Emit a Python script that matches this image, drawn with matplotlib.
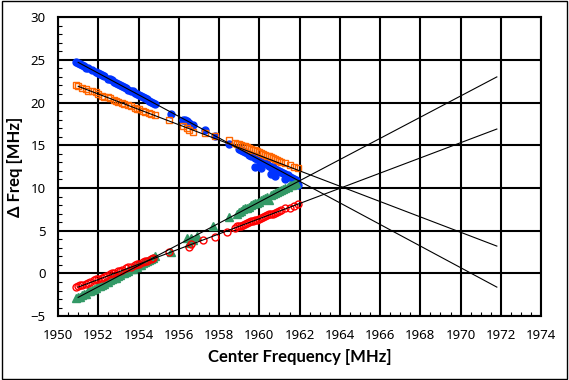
import matplotlib
matplotlib.use("Agg")
import matplotlib.pyplot as plt
from matplotlib.ticker import MultipleLocator
from matplotlib.patches import Rectangle

plt.rcParams['font.family'] = ['Noto Sans', 'DejaVu Sans']

freq_blue = [1950.9, 1951.0, 1951.1, 1951.2, 1951.3, 1951.4, 1951.5, 1951.7, 1951.9, 1952.0,
             1952.1, 1952.2, 1952.3, 1952.5, 1952.6, 1952.7, 1952.8, 1952.9, 1953.0, 1953.1,
             1953.2, 1953.3, 1953.4, 1953.5, 1953.6, 1953.7, 1953.8, 1953.9, 1954.0, 1954.1,
             1954.2, 1954.3, 1954.4, 1954.5, 1954.6, 1954.7, 1954.8, 1955.6, 1956.2, 1956.3,
             1956.4, 1956.5, 1956.7, 1957.3, 1957.8, 1958.5, 1959.0, 1959.1, 1959.2, 1959.3,
             1959.4, 1959.5, 1959.6, 1959.7, 1959.8, 1959.9, 1960.0, 1960.1, 1960.2, 1960.3,
             1960.4, 1960.5, 1960.6, 1960.7, 1960.8, 1960.9, 1961.0, 1961.1, 1961.2, 1961.3,
             1961.4, 1961.5, 1961.6, 1961.7, 1961.8, 1959.8, 1960.1, 1960.6, 1960.8, 1961.3,
             1961.9]
dfreq_blue = [24.8, 24.6, 24.5, 24.4, 24.3, 24.1, 24.0, 23.8, 23.6, 23.4,
              23.3, 23.2, 23.1, 22.8, 22.7, 22.6, 22.4, 22.3, 22.2, 22.0,
              21.9, 21.8, 21.7, 21.5, 21.4, 21.3, 21.1, 21.0, 20.9, 20.8,
              20.6, 20.5, 20.4, 20.2, 20.1, 20.0, 19.8, 18.7, 18.0, 17.9,
              17.8, 17.6, 17.4, 16.8, 16.1, 15.2, 14.6, 14.5, 14.3, 14.2,
              14.1, 13.9, 13.8, 13.7, 13.5, 13.4, 13.3, 13.1, 13.0, 12.9,
              12.8, 12.6, 12.5, 12.4, 12.2, 12.1, 12.0, 11.9, 11.7, 11.6,
              11.5, 11.3, 11.2, 11.1, 10.9, 12.5, 12.3, 11.6, 11.4, 11.0,
              10.4]

freq_orange = [1950.9, 1951.0, 1951.2, 1951.4, 1951.5, 1951.7, 1951.9, 1952.0, 1952.2, 1952.3,
               1952.5, 1952.6, 1952.8, 1952.9, 1953.0, 1953.2, 1953.3, 1953.5, 1953.6, 1953.8,
               1953.9, 1954.0, 1954.2, 1954.3, 1954.5, 1954.6, 1954.8, 1955.5, 1956.2, 1956.4,
               1956.5, 1956.7, 1957.3, 1957.8, 1958.5, 1958.8, 1958.9, 1959.0, 1959.1, 1959.2,
               1959.3, 1959.4, 1959.5, 1959.6, 1959.7, 1959.8, 1959.9, 1960.0, 1960.1, 1960.2,
               1960.3, 1960.4, 1960.5, 1960.6, 1960.7, 1960.8, 1960.9, 1961.0, 1961.1, 1961.3,
               1961.5, 1961.7, 1961.9]
dfreq_orange = [22.0, 21.9, 21.7, 21.6, 21.4, 21.3, 21.2, 21.0, 20.8, 20.7,
                20.6, 20.5, 20.3, 20.2, 20.1, 19.9, 19.8, 19.7, 19.6, 19.4,
                19.3, 19.2, 19.0, 18.9, 18.8, 18.7, 18.5, 18.0, 17.2, 17.0,
                16.8, 16.6, 16.4, 16.1, 15.6, 15.3, 15.2, 15.1, 15.0, 14.9,
                14.9, 14.8, 14.7, 14.6, 14.5, 14.4, 14.3, 14.2, 14.1, 14.0,
                13.9, 13.8, 13.7, 13.6, 13.5, 13.4, 13.3, 13.2, 13.1, 12.9,
                12.7, 12.5, 12.3]

freq_green = [1950.9, 1951.0, 1951.1, 1951.2, 1951.3, 1951.4, 1951.5, 1951.6, 1951.7, 1951.8,
              1951.9, 1952.0, 1952.1, 1952.2, 1952.3, 1952.4, 1952.5, 1952.6, 1952.7, 1952.8,
              1952.9, 1953.0, 1953.1, 1953.2, 1953.3, 1953.4, 1953.5, 1953.6, 1953.7, 1953.8,
              1953.9, 1954.0, 1954.1, 1954.2, 1954.3, 1954.4, 1954.5, 1954.6, 1954.7, 1954.8,
              1955.6, 1956.4, 1956.5, 1956.6, 1956.7, 1956.9, 1957.7, 1958.5, 1958.9, 1959.0,
              1959.1, 1959.2, 1959.3, 1959.4, 1959.5, 1959.6, 1959.7, 1959.8, 1959.9, 1960.0,
              1960.1, 1960.2, 1960.3, 1960.4, 1960.5, 1960.6, 1960.7, 1960.8, 1960.9, 1961.0,
              1961.1, 1961.2, 1961.3, 1961.4, 1961.5, 1961.6, 1961.7, 1961.8]
dfreq_green = [-2.9, -2.8, -2.7, -2.5, -2.4, -2.4, -2.1, -2.1, -1.9, -1.8,
               -1.7, -1.5, -1.5, -1.3, -1.2, -1.0, -1.0, -0.8, -0.7, -0.5,
               -0.5, -0.3, -0.2, 0.0, 0.0, 0.2, 0.3, 0.5, 0.5, 0.7,
               0.8, 1.0, 1.0, 1.2, 1.3, 1.4, 1.6, 1.7, 1.8, 2.0,
               2.5, 4.1, 3.6, 4.2, 3.9, 4.4, 5.6, 6.6, 7.0, 7.2,
               7.3, 7.5, 7.6, 7.7, 7.8, 8.0, 8.1, 8.2, 8.3, 8.4,
               8.6, 8.7, 8.8, 8.9, 8.6, 9.2, 9.3, 9.4, 9.5, 9.6,
               9.8, 9.9, 10.0, 10.1, 10.3, 10.4, 10.5, 10.6]

freq_red = [1950.9, 1951.0, 1951.1, 1951.2, 1951.4, 1951.5, 1951.6, 1951.8, 1951.9, 1952.0,
            1952.2, 1952.3, 1952.4, 1952.6, 1952.7, 1952.8, 1953.0, 1953.1, 1953.2, 1953.4,
            1953.5, 1953.6, 1953.8, 1953.9, 1954.0, 1954.2, 1954.3, 1954.4, 1954.6, 1954.7,
            1955.5, 1956.5, 1956.6, 1957.2, 1957.8, 1958.4, 1958.8, 1958.9, 1959.0, 1959.1,
            1959.2, 1959.3, 1959.4, 1959.5, 1959.6, 1959.7, 1959.8, 1959.9, 1960.0, 1960.1,
            1960.2, 1960.3, 1960.4, 1960.5, 1960.6, 1960.7, 1960.8, 1960.9, 1961.0, 1961.1,
            1961.3, 1961.5, 1961.7, 1961.9]
dfreq_red = [-1.6, -1.5, -1.4, -1.3, -1.2, -1.1, -1.0, -0.8, -0.7, -0.6,
             -0.5, -0.4, -0.3, -0.1, 0.0, 0.1, 0.3, 0.3, 0.4, 0.6,
             0.7, 0.8, 1.0, 1.1, 1.1, 1.3, 1.4, 1.5, 1.7, 1.8,
             2.5, 3.1, 3.4, 3.9, 4.3, 4.8, 5.3, 5.5, 5.5, 5.6,
             5.7, 5.8, 5.9, 6.0, 6.1, 6.1, 6.3, 6.3, 6.4, 6.5,
             6.6, 6.7, 6.8, 6.9, 6.9, 7.0, 7.1, 7.2, 7.3, 7.4,
             7.6, 7.7, 7.9, 8.1]

# linear fit lines (end points)
fit_x = [1951.0, 1971.8]
fit_blue = [24.7, -1.6]
fit_orange = [21.9, 3.2]
fit_green = [-2.8, 23.0]
fit_red = [-1.6, 16.9]

fig = plt.figure(figsize=(5.69, 3.80), dpi=100)
ax = fig.add_axes([0.102, 0.168, 0.849, 0.787])

ax.plot(freq_blue, dfreq_blue, 'o', ms=5, color='#0033ff', mec='#0033ff', zorder=3)
ax.plot(freq_orange, dfreq_orange, 's', ms=5, mfc='none', mec='#ff6600', mew=1, zorder=3)
ax.plot(freq_green, dfreq_green, '^', ms=5.5, color='#339966', mec='#339966', zorder=3)
ax.plot(freq_red, dfreq_red, 'o', ms=5, mfc='none', mec='#ff0000', mew=1, zorder=3)

for fy in [fit_blue, fit_orange, fit_green, fit_red]:
    ax.plot(fit_x, fy, color='black', lw=0.8, zorder=4)

ax.set_xlim(1950, 1974)
ax.set_ylim(-5, 30)
ax.xaxis.set_major_locator(MultipleLocator(2))
ax.xaxis.set_minor_locator(MultipleLocator(0.5))
ax.yaxis.set_major_locator(MultipleLocator(5))
ax.yaxis.set_minor_locator(MultipleLocator(1))
ax.grid(True, which='major', color='black', lw=1.5)
ax.tick_params(which='major', length=0, labelsize=9.5, pad=9)
ax.tick_params(which='minor', direction='in', length=3, width=0.8)
for s in ax.spines.values():
    s.set_linewidth(1.5)

label_font = ['Lato', 'DejaVu Sans']
ax.set_xlabel('Center Frequency [MHz]', family=label_font, fontsize=12,
              fontweight='bold', labelpad=5)
ax.set_ylabel('Δ Freq [MHz]', family=label_font, fontsize=12,
              fontweight='bold', labelpad=5)

fig.patches.append(Rectangle((0.003, 0.003), 0.994, 0.994, transform=fig.transFigure,
                             fill=False, edgecolor='black', lw=1))

fig.savefig('out.png', dpi=100)
